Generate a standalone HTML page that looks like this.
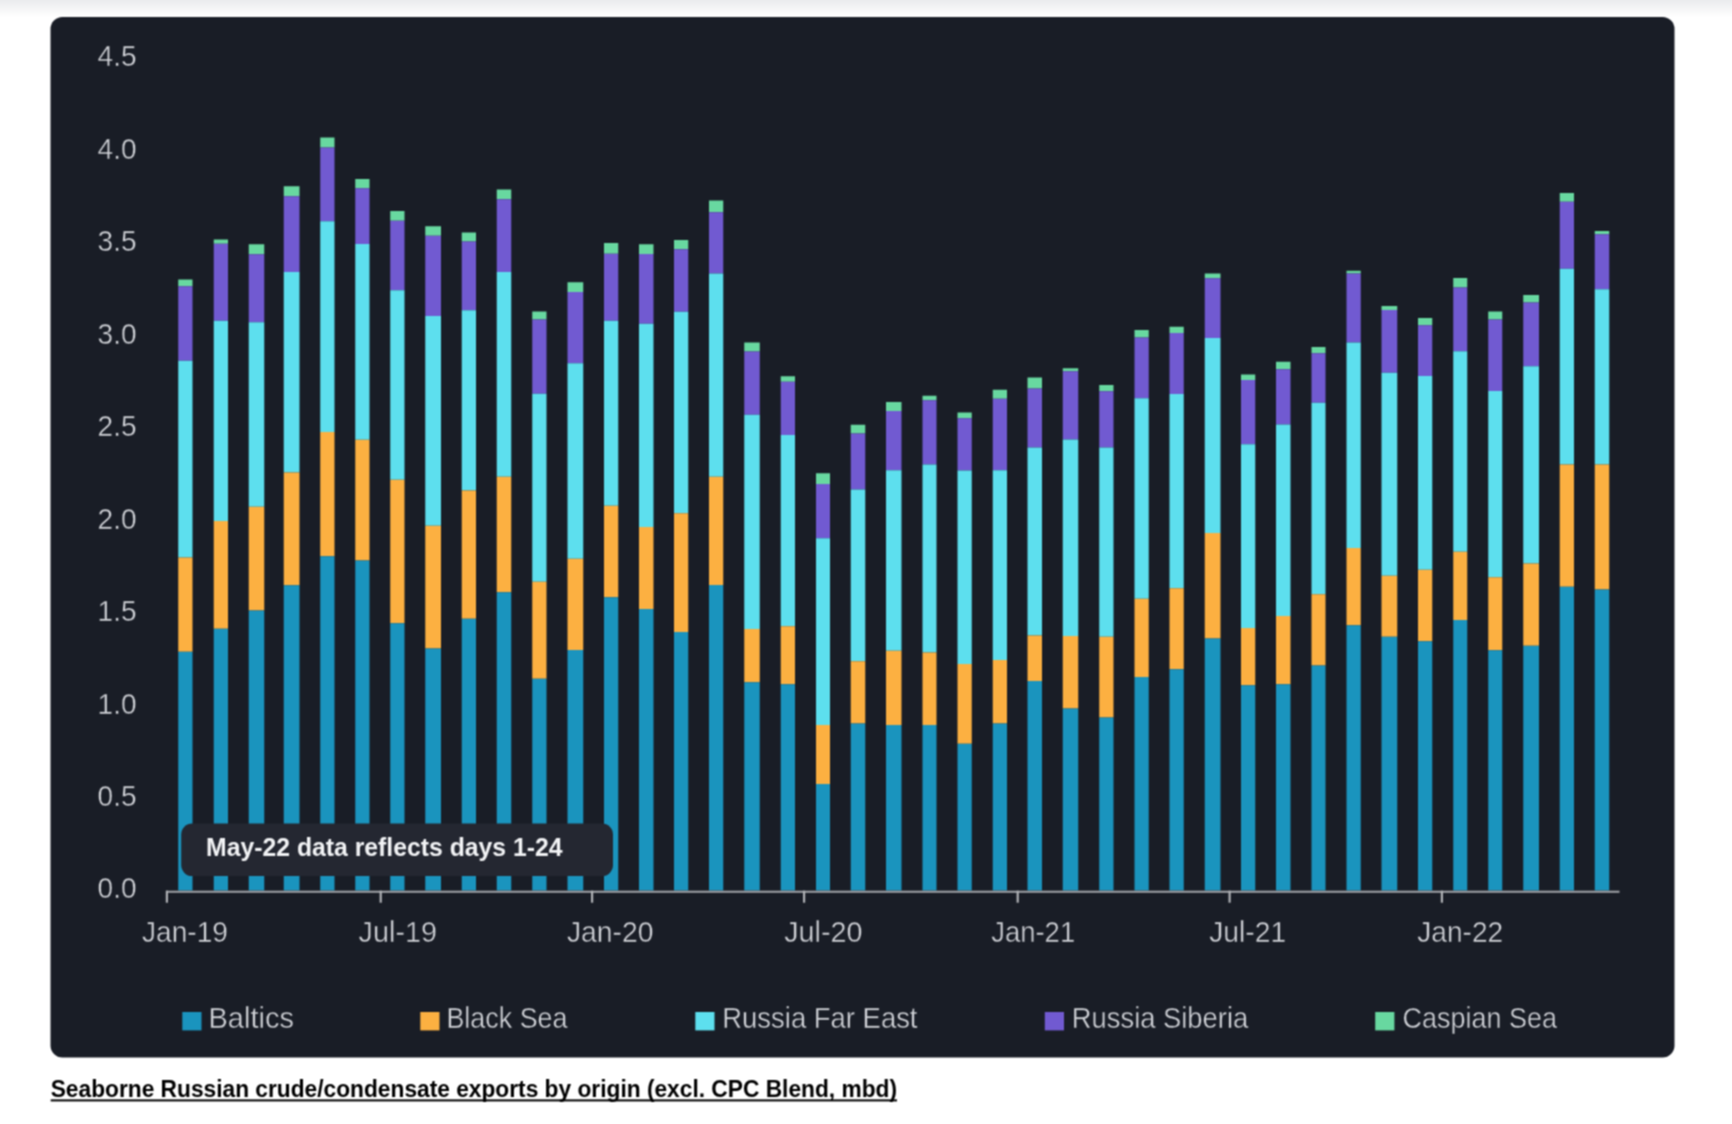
<!DOCTYPE html>
<html><head><meta charset="utf-8"><title>Chart</title>
<style>html,body{margin:0;padding:0;background:#fff;}body{width:1732px;height:1124px;overflow:hidden;font-family:"Liberation Sans",sans-serif;}svg{display:block;}text{font-family:"Liberation Sans",sans-serif;}</style></head><body>
<svg width="1732" height="1124" viewBox="0 0 1732 1124">
<defs><linearGradient id="tg" x1="0" y1="0" x2="0" y2="1"><stop offset="0" stop-color="#eaebed"/><stop offset="1" stop-color="#ffffff"/></linearGradient><filter id="sb" x="0" y="0" width="100%" height="100%" filterUnits="objectBoundingBox" color-interpolation-filters="sRGB"><feConvolveMatrix order="3" kernelMatrix="1 2 1 2 4 2 1 2 1" divisor="16" edgeMode="duplicate" preserveAlpha="true"/></filter></defs>
<g filter="url(#sb)">
<rect x="0" y="0" width="1732" height="1124" fill="#ffffff"/>
<rect x="0" y="0" width="1732" height="17" fill="url(#tg)"/>
<rect x="50.5" y="17" width="1624" height="1040.5" rx="12" ry="12" fill="#191d26"/>
<g shape-rendering="auto">
<rect x="178.25" y="279.50" width="14.25" height="6.75" fill="#68d8a0"/>
<rect x="178.25" y="286.25" width="14.25" height="74.50" fill="#715ad1"/>
<rect x="178.25" y="360.75" width="14.25" height="196.75" fill="#5ddfee"/>
<rect x="178.25" y="557.50" width="14.25" height="94.25" fill="#fcb041"/>
<rect x="178.25" y="651.75" width="14.25" height="238.75" fill="#1a94be"/>
<rect x="213.75" y="239.50" width="14.25" height="4.25" fill="#68d8a0"/>
<rect x="213.75" y="243.75" width="14.25" height="77.00" fill="#715ad1"/>
<rect x="213.75" y="320.75" width="14.25" height="200.25" fill="#5ddfee"/>
<rect x="213.75" y="521.00" width="14.25" height="107.75" fill="#fcb041"/>
<rect x="213.75" y="628.75" width="14.25" height="261.75" fill="#1a94be"/>
<rect x="248.75" y="244.25" width="15.50" height="10.00" fill="#68d8a0"/>
<rect x="248.75" y="254.25" width="15.50" height="68.00" fill="#715ad1"/>
<rect x="248.75" y="322.25" width="15.50" height="184.50" fill="#5ddfee"/>
<rect x="248.75" y="506.75" width="15.50" height="103.75" fill="#fcb041"/>
<rect x="248.75" y="610.50" width="15.50" height="280.00" fill="#1a94be"/>
<rect x="283.75" y="186.25" width="15.75" height="10.00" fill="#68d8a0"/>
<rect x="283.75" y="196.25" width="15.75" height="75.75" fill="#715ad1"/>
<rect x="283.75" y="272.00" width="15.75" height="200.50" fill="#5ddfee"/>
<rect x="283.75" y="472.50" width="15.75" height="112.75" fill="#fcb041"/>
<rect x="283.75" y="585.25" width="15.75" height="305.25" fill="#1a94be"/>
<rect x="320.25" y="137.50" width="14.25" height="10.00" fill="#68d8a0"/>
<rect x="320.25" y="147.50" width="14.25" height="73.75" fill="#715ad1"/>
<rect x="320.25" y="221.25" width="14.25" height="210.75" fill="#5ddfee"/>
<rect x="320.25" y="432.00" width="14.25" height="124.25" fill="#fcb041"/>
<rect x="320.25" y="556.25" width="14.25" height="334.25" fill="#1a94be"/>
<rect x="355.25" y="179.00" width="14.25" height="9.25" fill="#68d8a0"/>
<rect x="355.25" y="188.25" width="14.25" height="55.75" fill="#715ad1"/>
<rect x="355.25" y="244.00" width="14.25" height="195.75" fill="#5ddfee"/>
<rect x="355.25" y="439.75" width="14.25" height="120.75" fill="#fcb041"/>
<rect x="355.25" y="560.50" width="14.25" height="330.00" fill="#1a94be"/>
<rect x="390.25" y="211.00" width="14.25" height="9.75" fill="#68d8a0"/>
<rect x="390.25" y="220.75" width="14.25" height="69.50" fill="#715ad1"/>
<rect x="390.25" y="290.25" width="14.25" height="189.50" fill="#5ddfee"/>
<rect x="390.25" y="479.75" width="14.25" height="143.50" fill="#fcb041"/>
<rect x="390.25" y="623.25" width="14.25" height="267.25" fill="#1a94be"/>
<rect x="425.25" y="226.25" width="15.75" height="9.50" fill="#68d8a0"/>
<rect x="425.25" y="235.75" width="15.75" height="80.25" fill="#715ad1"/>
<rect x="425.25" y="316.00" width="15.75" height="209.75" fill="#5ddfee"/>
<rect x="425.25" y="525.75" width="15.75" height="122.75" fill="#fcb041"/>
<rect x="425.25" y="648.50" width="15.75" height="242.00" fill="#1a94be"/>
<rect x="461.75" y="232.50" width="14.25" height="9.00" fill="#68d8a0"/>
<rect x="461.75" y="241.50" width="14.25" height="68.75" fill="#715ad1"/>
<rect x="461.75" y="310.25" width="14.25" height="180.25" fill="#5ddfee"/>
<rect x="461.75" y="490.50" width="14.25" height="128.25" fill="#fcb041"/>
<rect x="461.75" y="618.75" width="14.25" height="271.75" fill="#1a94be"/>
<rect x="496.75" y="189.50" width="14.50" height="9.75" fill="#68d8a0"/>
<rect x="496.75" y="199.25" width="14.50" height="72.75" fill="#715ad1"/>
<rect x="496.75" y="272.00" width="14.50" height="204.75" fill="#5ddfee"/>
<rect x="496.75" y="476.75" width="14.50" height="115.50" fill="#fcb041"/>
<rect x="496.75" y="592.25" width="14.50" height="298.25" fill="#1a94be"/>
<rect x="532.25" y="311.50" width="14.25" height="8.00" fill="#68d8a0"/>
<rect x="532.25" y="319.50" width="14.25" height="74.25" fill="#715ad1"/>
<rect x="532.25" y="393.75" width="14.25" height="188.00" fill="#5ddfee"/>
<rect x="532.25" y="581.75" width="14.25" height="97.00" fill="#fcb041"/>
<rect x="532.25" y="678.75" width="14.25" height="211.75" fill="#1a94be"/>
<rect x="567.50" y="282.25" width="15.75" height="9.75" fill="#68d8a0"/>
<rect x="567.50" y="292.00" width="15.75" height="71.25" fill="#715ad1"/>
<rect x="567.50" y="363.25" width="15.75" height="195.50" fill="#5ddfee"/>
<rect x="567.50" y="558.75" width="15.75" height="91.25" fill="#fcb041"/>
<rect x="567.50" y="650.00" width="15.75" height="240.50" fill="#1a94be"/>
<rect x="604.00" y="243.00" width="14.25" height="10.75" fill="#68d8a0"/>
<rect x="604.00" y="253.75" width="14.25" height="67.00" fill="#715ad1"/>
<rect x="604.00" y="320.75" width="14.25" height="185.00" fill="#5ddfee"/>
<rect x="604.00" y="505.75" width="14.25" height="91.50" fill="#fcb041"/>
<rect x="604.00" y="597.25" width="14.25" height="293.25" fill="#1a94be"/>
<rect x="639.00" y="244.25" width="14.50" height="9.75" fill="#68d8a0"/>
<rect x="639.00" y="254.00" width="14.50" height="69.75" fill="#715ad1"/>
<rect x="639.00" y="323.75" width="14.50" height="203.25" fill="#5ddfee"/>
<rect x="639.00" y="527.00" width="14.50" height="82.00" fill="#fcb041"/>
<rect x="639.00" y="609.00" width="14.50" height="281.50" fill="#1a94be"/>
<rect x="674.00" y="240.00" width="14.25" height="9.25" fill="#68d8a0"/>
<rect x="674.00" y="249.25" width="14.25" height="62.50" fill="#715ad1"/>
<rect x="674.00" y="311.75" width="14.25" height="201.50" fill="#5ddfee"/>
<rect x="674.00" y="513.25" width="14.25" height="118.75" fill="#fcb041"/>
<rect x="674.00" y="632.00" width="14.25" height="258.50" fill="#1a94be"/>
<rect x="709.00" y="200.50" width="14.25" height="11.75" fill="#68d8a0"/>
<rect x="709.00" y="212.25" width="14.25" height="61.25" fill="#715ad1"/>
<rect x="709.00" y="273.50" width="14.25" height="203.25" fill="#5ddfee"/>
<rect x="709.00" y="476.75" width="14.25" height="108.25" fill="#fcb041"/>
<rect x="709.00" y="585.00" width="14.25" height="305.50" fill="#1a94be"/>
<rect x="744.25" y="342.50" width="15.50" height="9.00" fill="#68d8a0"/>
<rect x="744.25" y="351.50" width="15.50" height="63.25" fill="#715ad1"/>
<rect x="744.25" y="414.75" width="15.50" height="214.25" fill="#5ddfee"/>
<rect x="744.25" y="629.00" width="15.50" height="53.25" fill="#fcb041"/>
<rect x="744.25" y="682.25" width="15.50" height="208.25" fill="#1a94be"/>
<rect x="780.75" y="376.25" width="14.25" height="5.50" fill="#68d8a0"/>
<rect x="780.75" y="381.75" width="14.25" height="53.25" fill="#715ad1"/>
<rect x="780.75" y="435.00" width="14.25" height="191.25" fill="#5ddfee"/>
<rect x="780.75" y="626.25" width="14.25" height="58.00" fill="#fcb041"/>
<rect x="780.75" y="684.25" width="14.25" height="206.25" fill="#1a94be"/>
<rect x="816.00" y="473.25" width="14.00" height="10.75" fill="#68d8a0"/>
<rect x="816.00" y="484.00" width="14.00" height="54.25" fill="#715ad1"/>
<rect x="816.00" y="538.25" width="14.00" height="186.75" fill="#5ddfee"/>
<rect x="816.00" y="725.00" width="14.00" height="59.00" fill="#fcb041"/>
<rect x="816.00" y="784.00" width="14.00" height="106.50" fill="#1a94be"/>
<rect x="850.75" y="424.75" width="14.50" height="8.75" fill="#68d8a0"/>
<rect x="850.75" y="433.50" width="14.50" height="56.00" fill="#715ad1"/>
<rect x="850.75" y="489.50" width="14.50" height="171.75" fill="#5ddfee"/>
<rect x="850.75" y="661.25" width="14.50" height="62.25" fill="#fcb041"/>
<rect x="850.75" y="723.50" width="14.50" height="167.00" fill="#1a94be"/>
<rect x="886.00" y="402.00" width="15.50" height="9.00" fill="#68d8a0"/>
<rect x="886.00" y="411.00" width="15.50" height="59.25" fill="#715ad1"/>
<rect x="886.00" y="470.25" width="15.50" height="180.50" fill="#5ddfee"/>
<rect x="886.00" y="650.75" width="15.50" height="74.25" fill="#fcb041"/>
<rect x="886.00" y="725.00" width="15.50" height="165.50" fill="#1a94be"/>
<rect x="922.50" y="395.75" width="14.00" height="4.50" fill="#68d8a0"/>
<rect x="922.50" y="400.25" width="14.00" height="64.25" fill="#715ad1"/>
<rect x="922.50" y="464.50" width="14.00" height="188.00" fill="#5ddfee"/>
<rect x="922.50" y="652.50" width="14.00" height="72.50" fill="#fcb041"/>
<rect x="922.50" y="725.00" width="14.00" height="165.50" fill="#1a94be"/>
<rect x="957.50" y="412.50" width="14.25" height="5.75" fill="#68d8a0"/>
<rect x="957.50" y="418.25" width="14.25" height="52.25" fill="#715ad1"/>
<rect x="957.50" y="470.50" width="14.25" height="193.50" fill="#5ddfee"/>
<rect x="957.50" y="664.00" width="14.25" height="79.75" fill="#fcb041"/>
<rect x="957.50" y="743.75" width="14.25" height="146.75" fill="#1a94be"/>
<rect x="992.75" y="389.75" width="14.25" height="9.00" fill="#68d8a0"/>
<rect x="992.75" y="398.75" width="14.25" height="71.50" fill="#715ad1"/>
<rect x="992.75" y="470.25" width="14.25" height="189.75" fill="#5ddfee"/>
<rect x="992.75" y="660.00" width="14.25" height="63.50" fill="#fcb041"/>
<rect x="992.75" y="723.50" width="14.25" height="167.00" fill="#1a94be"/>
<rect x="1027.50" y="377.50" width="14.50" height="11.00" fill="#68d8a0"/>
<rect x="1027.50" y="388.50" width="14.50" height="59.00" fill="#715ad1"/>
<rect x="1027.50" y="447.50" width="14.50" height="188.00" fill="#5ddfee"/>
<rect x="1027.50" y="635.50" width="14.50" height="45.50" fill="#fcb041"/>
<rect x="1027.50" y="681.00" width="14.50" height="209.50" fill="#1a94be"/>
<rect x="1062.75" y="368.25" width="15.50" height="3.00" fill="#68d8a0"/>
<rect x="1062.75" y="371.25" width="15.50" height="68.25" fill="#715ad1"/>
<rect x="1062.75" y="439.50" width="15.50" height="196.50" fill="#5ddfee"/>
<rect x="1062.75" y="636.00" width="15.50" height="72.50" fill="#fcb041"/>
<rect x="1062.75" y="708.50" width="15.50" height="182.00" fill="#1a94be"/>
<rect x="1099.25" y="385.00" width="14.25" height="6.25" fill="#68d8a0"/>
<rect x="1099.25" y="391.25" width="14.25" height="56.25" fill="#715ad1"/>
<rect x="1099.25" y="447.50" width="14.25" height="189.25" fill="#5ddfee"/>
<rect x="1099.25" y="636.75" width="14.25" height="80.75" fill="#fcb041"/>
<rect x="1099.25" y="717.50" width="14.25" height="173.00" fill="#1a94be"/>
<rect x="1134.50" y="330.00" width="14.25" height="7.50" fill="#68d8a0"/>
<rect x="1134.50" y="337.50" width="14.25" height="60.75" fill="#715ad1"/>
<rect x="1134.50" y="398.25" width="14.25" height="200.50" fill="#5ddfee"/>
<rect x="1134.50" y="598.75" width="14.25" height="78.25" fill="#fcb041"/>
<rect x="1134.50" y="677.00" width="14.25" height="213.50" fill="#1a94be"/>
<rect x="1169.50" y="326.75" width="14.25" height="6.25" fill="#68d8a0"/>
<rect x="1169.50" y="333.00" width="14.25" height="61.00" fill="#715ad1"/>
<rect x="1169.50" y="394.00" width="14.25" height="194.25" fill="#5ddfee"/>
<rect x="1169.50" y="588.25" width="14.25" height="81.00" fill="#fcb041"/>
<rect x="1169.50" y="669.25" width="14.25" height="221.25" fill="#1a94be"/>
<rect x="1204.75" y="273.50" width="15.75" height="4.75" fill="#68d8a0"/>
<rect x="1204.75" y="278.25" width="15.75" height="59.75" fill="#715ad1"/>
<rect x="1204.75" y="338.00" width="15.75" height="195.00" fill="#5ddfee"/>
<rect x="1204.75" y="533.00" width="15.75" height="105.50" fill="#fcb041"/>
<rect x="1204.75" y="638.50" width="15.75" height="252.00" fill="#1a94be"/>
<rect x="1241.00" y="374.50" width="14.25" height="5.50" fill="#68d8a0"/>
<rect x="1241.00" y="380.00" width="14.25" height="64.25" fill="#715ad1"/>
<rect x="1241.00" y="444.25" width="14.25" height="183.75" fill="#5ddfee"/>
<rect x="1241.00" y="628.00" width="14.25" height="57.25" fill="#fcb041"/>
<rect x="1241.00" y="685.25" width="14.25" height="205.25" fill="#1a94be"/>
<rect x="1276.00" y="361.75" width="14.50" height="7.50" fill="#68d8a0"/>
<rect x="1276.00" y="369.25" width="14.50" height="55.25" fill="#715ad1"/>
<rect x="1276.00" y="424.50" width="14.50" height="191.50" fill="#5ddfee"/>
<rect x="1276.00" y="616.00" width="14.50" height="68.25" fill="#fcb041"/>
<rect x="1276.00" y="684.25" width="14.50" height="206.25" fill="#1a94be"/>
<rect x="1311.50" y="347.00" width="14.00" height="6.25" fill="#68d8a0"/>
<rect x="1311.50" y="353.25" width="14.00" height="49.50" fill="#715ad1"/>
<rect x="1311.50" y="402.75" width="14.00" height="191.50" fill="#5ddfee"/>
<rect x="1311.50" y="594.25" width="14.00" height="71.25" fill="#fcb041"/>
<rect x="1311.50" y="665.50" width="14.00" height="225.00" fill="#1a94be"/>
<rect x="1346.50" y="270.75" width="14.25" height="2.75" fill="#68d8a0"/>
<rect x="1346.50" y="273.50" width="14.25" height="69.00" fill="#715ad1"/>
<rect x="1346.50" y="342.50" width="14.25" height="205.50" fill="#5ddfee"/>
<rect x="1346.50" y="548.00" width="14.25" height="77.25" fill="#fcb041"/>
<rect x="1346.50" y="625.25" width="14.25" height="265.25" fill="#1a94be"/>
<rect x="1381.50" y="306.00" width="15.75" height="4.00" fill="#68d8a0"/>
<rect x="1381.50" y="310.00" width="15.75" height="62.75" fill="#715ad1"/>
<rect x="1381.50" y="372.75" width="15.75" height="203.00" fill="#5ddfee"/>
<rect x="1381.50" y="575.75" width="15.75" height="61.00" fill="#fcb041"/>
<rect x="1381.50" y="636.75" width="15.75" height="253.75" fill="#1a94be"/>
<rect x="1418.00" y="318.00" width="14.25" height="7.25" fill="#68d8a0"/>
<rect x="1418.00" y="325.25" width="14.25" height="50.75" fill="#715ad1"/>
<rect x="1418.00" y="376.00" width="14.25" height="193.75" fill="#5ddfee"/>
<rect x="1418.00" y="569.75" width="14.25" height="71.50" fill="#fcb041"/>
<rect x="1418.00" y="641.25" width="14.25" height="249.25" fill="#1a94be"/>
<rect x="1453.25" y="278.00" width="14.00" height="9.50" fill="#68d8a0"/>
<rect x="1453.25" y="287.50" width="14.00" height="63.75" fill="#715ad1"/>
<rect x="1453.25" y="351.25" width="14.00" height="200.50" fill="#5ddfee"/>
<rect x="1453.25" y="551.75" width="14.00" height="68.25" fill="#fcb041"/>
<rect x="1453.25" y="620.00" width="14.00" height="270.50" fill="#1a94be"/>
<rect x="1488.25" y="311.50" width="14.00" height="8.00" fill="#68d8a0"/>
<rect x="1488.25" y="319.50" width="14.00" height="71.50" fill="#715ad1"/>
<rect x="1488.25" y="391.00" width="14.00" height="186.25" fill="#5ddfee"/>
<rect x="1488.25" y="577.25" width="14.00" height="73.00" fill="#fcb041"/>
<rect x="1488.25" y="650.25" width="14.00" height="240.25" fill="#1a94be"/>
<rect x="1523.25" y="295.00" width="15.75" height="7.50" fill="#68d8a0"/>
<rect x="1523.25" y="302.50" width="15.75" height="63.75" fill="#715ad1"/>
<rect x="1523.25" y="366.25" width="15.75" height="197.25" fill="#5ddfee"/>
<rect x="1523.25" y="563.50" width="15.75" height="82.25" fill="#fcb041"/>
<rect x="1523.25" y="645.75" width="15.75" height="244.75" fill="#1a94be"/>
<rect x="1559.75" y="193.00" width="14.25" height="8.75" fill="#68d8a0"/>
<rect x="1559.75" y="201.75" width="14.25" height="67.00" fill="#715ad1"/>
<rect x="1559.75" y="268.75" width="14.25" height="195.75" fill="#5ddfee"/>
<rect x="1559.75" y="464.50" width="14.25" height="122.25" fill="#fcb041"/>
<rect x="1559.75" y="586.75" width="14.25" height="303.75" fill="#1a94be"/>
<rect x="1594.75" y="231.00" width="14.50" height="3.25" fill="#68d8a0"/>
<rect x="1594.75" y="234.25" width="14.50" height="55.00" fill="#715ad1"/>
<rect x="1594.75" y="289.25" width="14.50" height="175.25" fill="#5ddfee"/>
<rect x="1594.75" y="464.50" width="14.50" height="125.00" fill="#fcb041"/>
<rect x="1594.75" y="589.50" width="14.50" height="301.00" fill="#1a94be"/>
</g>
<rect x="166" y="890.7" width="1453.5" height="2.1" fill="#9c9ea3"/>
<rect x="165.80" y="890.7" width="2.2" height="12" fill="#b0b2b6"/>
<rect x="379.60" y="890.7" width="2.2" height="12" fill="#b0b2b6"/>
<rect x="591.00" y="890.7" width="2.2" height="12" fill="#b0b2b6"/>
<rect x="803.00" y="890.7" width="2.2" height="12" fill="#b0b2b6"/>
<rect x="1016.60" y="890.7" width="2.2" height="12" fill="#b0b2b6"/>
<rect x="1228.50" y="890.7" width="2.2" height="12" fill="#b0b2b6"/>
<rect x="1440.80" y="890.7" width="2.2" height="12" fill="#b0b2b6"/>
<text x="97.6" y="898.05" font-size="29.6" fill="#d2d4d9" stroke="#191d26" stroke-width="0.4" textLength="39" lengthAdjust="spacingAndGlyphs">0.0</text>
<text x="97.6" y="806.32" font-size="29.6" fill="#d2d4d9" stroke="#191d26" stroke-width="0.4" textLength="39" lengthAdjust="spacingAndGlyphs">0.5</text>
<text x="97.6" y="713.79" font-size="29.6" fill="#d2d4d9" stroke="#191d26" stroke-width="0.4" textLength="39" lengthAdjust="spacingAndGlyphs">1.0</text>
<text x="97.6" y="621.26" font-size="29.6" fill="#d2d4d9" stroke="#191d26" stroke-width="0.4" textLength="39" lengthAdjust="spacingAndGlyphs">1.5</text>
<text x="97.6" y="528.73" font-size="29.6" fill="#d2d4d9" stroke="#191d26" stroke-width="0.4" textLength="39" lengthAdjust="spacingAndGlyphs">2.0</text>
<text x="97.6" y="436.20" font-size="29.6" fill="#d2d4d9" stroke="#191d26" stroke-width="0.4" textLength="39" lengthAdjust="spacingAndGlyphs">2.5</text>
<text x="97.6" y="343.67" font-size="29.6" fill="#d2d4d9" stroke="#191d26" stroke-width="0.4" textLength="39" lengthAdjust="spacingAndGlyphs">3.0</text>
<text x="97.6" y="251.14" font-size="29.6" fill="#d2d4d9" stroke="#191d26" stroke-width="0.4" textLength="39" lengthAdjust="spacingAndGlyphs">3.5</text>
<text x="97.6" y="158.61" font-size="29.6" fill="#d2d4d9" stroke="#191d26" stroke-width="0.4" textLength="39" lengthAdjust="spacingAndGlyphs">4.0</text>
<text x="97.6" y="66.08" font-size="29.6" fill="#d2d4d9" stroke="#191d26" stroke-width="0.4" textLength="39" lengthAdjust="spacingAndGlyphs">4.5</text>
<text x="142" y="942.2" font-size="29.3" fill="#d2d4d9" stroke="#191d26" stroke-width="0.4" textLength="86" lengthAdjust="spacingAndGlyphs">Jan-19</text>
<text x="358.6" y="942.2" font-size="29.3" fill="#d2d4d9" stroke="#191d26" stroke-width="0.4" textLength="78.4" lengthAdjust="spacingAndGlyphs">Jul-19</text>
<text x="566.9" y="942.2" font-size="29.3" fill="#d2d4d9" stroke="#191d26" stroke-width="0.4" textLength="86.6" lengthAdjust="spacingAndGlyphs">Jan-20</text>
<text x="784.2" y="942.2" font-size="29.3" fill="#d2d4d9" stroke="#191d26" stroke-width="0.4" textLength="78.4" lengthAdjust="spacingAndGlyphs">Jul-20</text>
<text x="991.2" y="942.2" font-size="29.3" fill="#d2d4d9" stroke="#191d26" stroke-width="0.4" textLength="84" lengthAdjust="spacingAndGlyphs">Jan-21</text>
<text x="1209.2" y="942.2" font-size="29.3" fill="#d2d4d9" stroke="#191d26" stroke-width="0.4" textLength="77" lengthAdjust="spacingAndGlyphs">Jul-21</text>
<text x="1417.2" y="942.2" font-size="29.3" fill="#d2d4d9" stroke="#191d26" stroke-width="0.4" textLength="86" lengthAdjust="spacingAndGlyphs">Jan-22</text>
<rect x="182.3" y="1012" width="19.2" height="18.4" fill="#1a94be"/>
<text x="208.5" y="1028.2" font-size="30.4" fill="#d2d4d9" stroke="#191d26" stroke-width="0.4" textLength="85.5" lengthAdjust="spacingAndGlyphs">Baltics</text>
<rect x="420.3" y="1012" width="19.2" height="18.4" fill="#fcb041"/>
<text x="446.4" y="1028.2" font-size="30.4" fill="#d2d4d9" stroke="#191d26" stroke-width="0.4" textLength="121.1" lengthAdjust="spacingAndGlyphs">Black Sea</text>
<rect x="695.3" y="1012" width="19.2" height="18.4" fill="#5ddfee"/>
<text x="722.3" y="1028.2" font-size="30.4" fill="#d2d4d9" stroke="#191d26" stroke-width="0.4" textLength="195.2" lengthAdjust="spacingAndGlyphs">Russia Far East</text>
<rect x="1044.8" y="1012" width="19.2" height="18.4" fill="#715ad1"/>
<text x="1071.8" y="1028.2" font-size="30.4" fill="#d2d4d9" stroke="#191d26" stroke-width="0.4" textLength="176.4" lengthAdjust="spacingAndGlyphs">Russia Siberia</text>
<rect x="1375.2" y="1012" width="19.2" height="18.4" fill="#68d8a0"/>
<text x="1402.5" y="1028.2" font-size="30.4" fill="#d2d4d9" stroke="#191d26" stroke-width="0.4" textLength="154.5" lengthAdjust="spacingAndGlyphs">Caspian Sea</text>
<rect x="181.2" y="823.5" width="431.8" height="52.6" rx="11" ry="11" fill="#242731"/>
<text x="206.1" y="856.3" font-size="25" font-weight="bold" fill="#f2f3f5" textLength="356.4" lengthAdjust="spacingAndGlyphs">May-22 data reflects days 1-24</text>
<text x="50.7" y="1097.3" font-size="24.2" font-weight="bold" fill="#000" textLength="846.3" lengthAdjust="spacingAndGlyphs">Seaborne Russian crude/condensate exports by origin (excl. CPC Blend, mbd)</text>
<rect x="50.7" y="1099.4" width="846.3" height="2" fill="#000"/>
</g></svg></body></html>
